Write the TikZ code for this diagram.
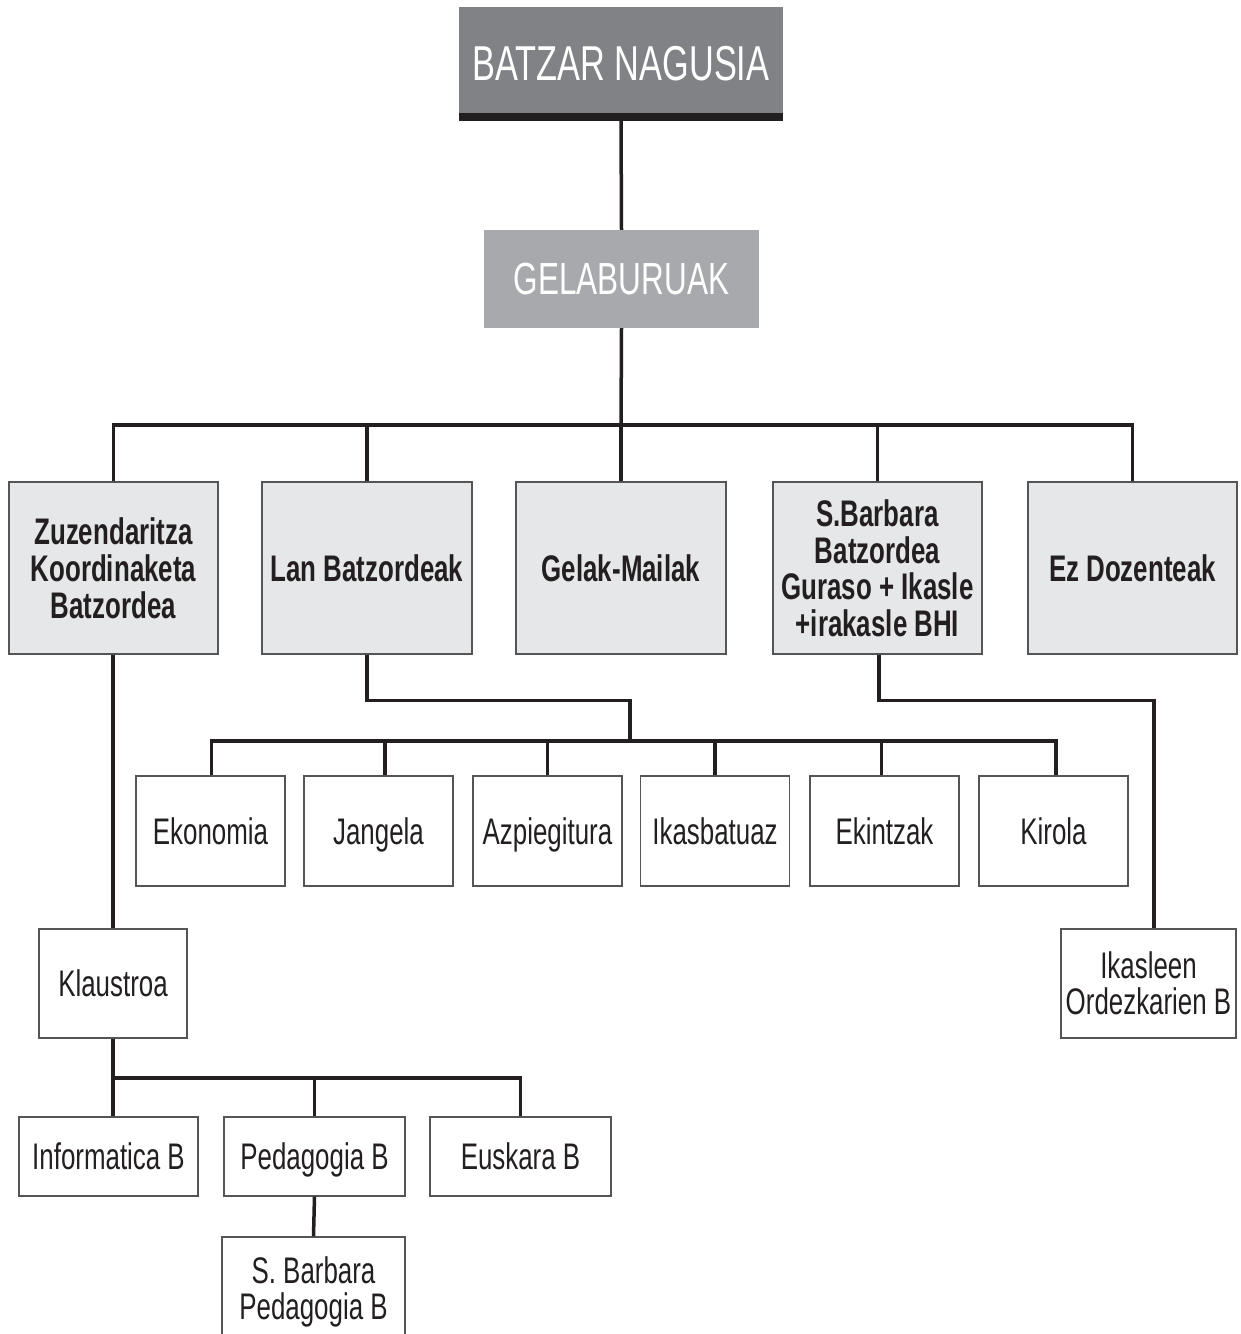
\documentclass[tikz,border=0pt]{standalone}
\usepackage{fontspec}
\setmainfont[FakeStretch=0.7]{Liberation Sans}
\definecolor{linec}{HTML}{231F20}
\definecolor{topgray}{HTML}{808285}
\definecolor{midgray}{HTML}{A7A9AC}
\definecolor{lightgray}{HTML}{E6E7E8}
\definecolor{edgec}{HTML}{555555}
\begin{document}
\begin{tikzpicture}[x=1pt,y=-1pt,
  conn/.style={line width=3.5pt, draw=linec},
  topbox/.style={fill=topgray, text=white, inner sep=0pt, font=\fontsize{49}{49}\selectfont},
  midbox/.style={fill=midgray, text=white, inner sep=0pt, font=\fontsize{45}{45}\selectfont},
  grbox/.style={fill=lightgray, draw=edgec, line width=1.2pt, text=linec, inner sep=0pt,
     minimum height=172pt, align=center, text depth=0pt, font=\bfseries\fontsize{37}{37}\selectfont},
  wbox/.style={fill=white, draw=edgec, line width=1.2pt, text=linec, inner sep=0pt,
     align=center, text depth=0pt, font=\fontsize{37}{36}\selectfont}
]
\useasboundingbox (0,0) rectangle (1241,1334);
\clip (0,0) rectangle (1241,1334);
\fill[white] (0,0) rectangle (1241,1334);

% top
\node[topbox, minimum width=324pt, minimum height=114pt] (batzar) at (621,64) {BATZAR NAGUSIA};
\fill[linec] (459,113) rectangle (783,121);
\node[midbox, minimum width=275pt, minimum height=98pt] (gela) at (621.5,279) {GELABURUAK};

% row 2
\node[grbox, minimum width=209pt] (zuz) at (113.5,568) {Zuzendaritza\\Koordinaketa\\Batzordea};
\node[grbox, minimum width=210pt] (lan) at (367,568) {Lan Batzordeak};
\node[grbox, minimum width=210pt] (gel) at (621,568) {Gelak-Mailak};
\node[grbox, minimum width=209pt, font=\bfseries\fontsize{37}{36.5}\selectfont] (sbb) at (877.5,568) {S.Barbara\\Batzordea\\Guraso + Ikasle\\+irakasle BHI};
\node[grbox, minimum width=209pt] (ez) at (1132.5,568) {Ez Dozenteak};

% row 3
\tikzset{r3/.style={wbox, minimum width=149pt, minimum height=110pt}}
\node[r3] (eko) at (210.5,831) {Ekonomia};
\node[r3] (jan) at (378.5,831) {Jangela};
\node[r3] (azp) at (547.5,831) {Azpiegitura};
\node[r3] (ikb) at (715,831) {Ikasbatuaz};
\node[r3] (eki) at (884.5,831) {Ekintzak};
\node[r3] (kir) at (1053.5,831) {Kirola};

% klaustroa, ikasleen
\node[wbox, minimum width=148pt, minimum height=109pt] (kla) at (113,983.5) {Klaustroa};
\node[wbox, minimum width=175pt, minimum height=109pt] (iko) at (1148.5,983.5) {Ikasleen\\Ordezkarien B};

% bottom row
\tikzset{r4/.style={wbox, minimum height=79pt}}
\node[r4, minimum width=179pt] (inf) at (108.5,1156.5) {Informatica B};
\node[r4, minimum width=181pt] (ped) at (314.5,1156.5) {Pedagogia B};
\node[r4, minimum width=181pt] (euk) at (520.5,1156.5) {Euskara B};
\node[wbox, minimum width=183pt, minimum height=102pt] (sbp) at (313.5,1288) {S. Barbara\\Pedagogia B};

% connectors
\draw[conn] (batzar.south) -- (gela.north);
\coordinate (b1) at (621,425);
\draw[conn] (gela.south) -- (b1);
\draw[conn] (zuz.north) |- (b1) -| (ez.north);
\foreach \n in {lan,gel,sbb} \draw[conn] (\n.north) -- (\n.north |- b1);

\coordinate (b2) at (630,741);
\draw[conn] (lan.south) -- ++(0,46) -| (b2);
\draw[conn] ([xshift=1pt]eko.north) |- (b2) -| ([xshift=2.5pt]kir.north);
\draw[conn] ([xshift=6.5pt]jan.north) -- ([xshift=6.5pt]jan.north |- b2);
\draw[conn] (azp.north) -- (azp.north |- b2);
\draw[conn] (ikb.north) -- (ikb.north |- b2);
\draw[conn] ([xshift=-3pt]eki.north) -- ([xshift=-3pt]eki.north |- b2);

\draw[conn] ([xshift=1.5pt]sbb.south) -- ++(0,46) -| ([xshift=5.5pt]iko.north);

\draw[conn] (zuz.south -| kla.north) -- (kla.north);
\coordinate (b3) at (113,1078);
\draw[conn] (kla.south) -- (b3) -- (b3 |- inf.north);
\draw[conn] (b3) -| (euk.north);
\draw[conn] (ped.north) -- (ped.north |- b3);
\draw[conn] (ped.south) -- (sbp.north);
\end{tikzpicture}
\end{document}
